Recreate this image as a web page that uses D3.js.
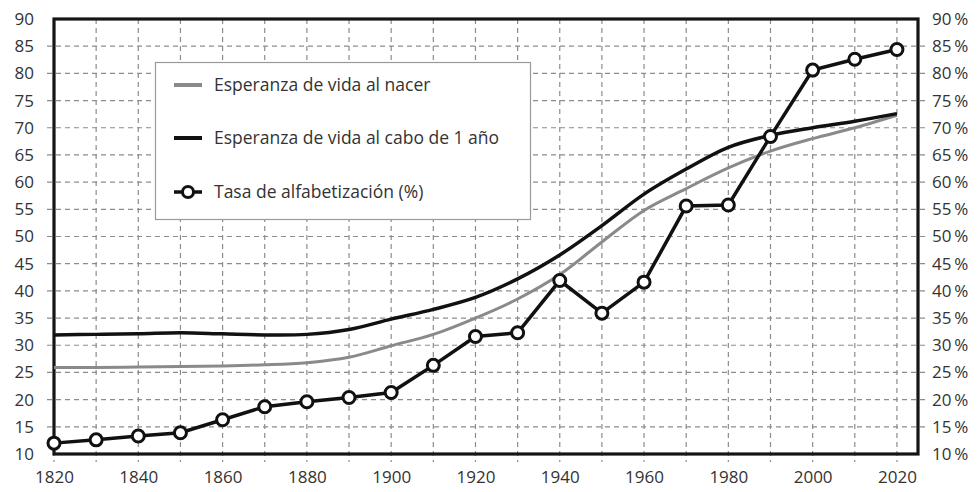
<!DOCTYPE html>
<html>
<head>
<meta charset="utf-8">
<script src="https://cdn.jsdelivr.net/npm/d3@7"></script>
<style>
  body { margin: 0; background: #fff; }
  svg { display: block; font-family: "Open Sans", sans-serif; }
  .tick text { fill: #333; }
</style>
</head>
<body>
<svg id="chart" width="977" height="492"></svg>
<script>
// years sampled every decade
var years = [1820, 1830, 1840, 1850, 1860, 1870, 1880, 1890, 1900, 1910, 1920,
             1930, 1940, 1950, 1960, 1970, 1980, 1990, 2000, 2010, 2020];

var lifeAtBirth = [25.9, 25.9, 26.0, 26.1, 26.2, 26.4, 26.8, 27.8, 29.9, 32.0, 35.0,
                   38.5, 43.0, 49.0, 54.8, 58.8, 62.6, 65.7, 68.0, 70.0, 72.3];

var lifeAtOne = [31.9, 32.0, 32.1, 32.3, 32.1, 31.9, 32.0, 32.9, 34.8, 36.6, 38.8,
                 42.2, 46.6, 52.0, 57.8, 62.4, 66.4, 68.6, 70.0, 71.2, 72.6];

var literacy = [12.0, 12.6, 13.3, 13.9, 16.3, 18.7, 19.6, 20.4, 21.3, 26.3, 31.6,
                32.3, 41.9, 35.9, 41.6, 55.6, 55.8, 68.4, 80.6, 82.6, 84.4];

var xTicks = [1820, 1840, 1860, 1880, 1900, 1920, 1940, 1960, 1980, 2000, 2020];
var yTicks = [10, 15, 20, 25, 30, 35, 40, 45, 50, 55, 60, 65, 70, 75, 80, 85, 90];

var legendLabels = ["Esperanza de vida al nacer",
                    "Esperanza de vida al cabo de 1 año",
                    "Tasa de alfabetización (%)"];

var plotL = 54, plotR = 918, plotT = 19, plotB = 454;

var x = d3.scaleLinear().domain([1820, 2025]).range([plotL, plotR]);
var y = d3.scaleLinear().domain([10, 90]).range([plotB, plotT]);

var svg = d3.select("#chart");

// dashed grid (runs a bit past the frame like ticks)
var grid = svg.append("g")
    .attr("stroke", "#8c8c8c")
    .attr("stroke-width", 1.2)
    .attr("stroke-dasharray", "5,4");

grid.selectAll("line.h").data(yTicks.slice(1, -1)).enter().append("line")
    .attr("x1", plotL - 7).attr("x2", plotR + 7)
    .attr("y1", function(d) { return y(d); })
    .attr("y2", function(d) { return y(d); });

grid.selectAll("line.v").data(years).enter().append("line")
    .attr("x1", function(d) { return x(d); })
    .attr("x2", function(d) { return x(d); })
    .attr("y1", plotT).attr("y2", plotB + 8);

// axes (labels only)
var yLeft = svg.append("g")
    .attr("transform", "translate(" + (plotL - 20) + ",0)")
    .call(d3.axisLeft(y).tickValues(yTicks).tickSize(0).tickPadding(0));

var yRight = svg.append("g")
    .attr("transform", "translate(" + (plotR + 14) + ",0)")
    .call(d3.axisRight(y).tickValues(yTicks).tickSize(0).tickPadding(0)
          .tickFormat(function(d) { return d + "\u2009%"; }));

var xAxis = svg.append("g")
    .attr("transform", "translate(0," + (plotB + 15) + ")")
    .call(d3.axisBottom(x).tickValues(xTicks).tickSize(0).tickPadding(0)
          .tickFormat(d3.format("d")));

[yLeft, yRight, xAxis].forEach(function(g) {
    g.select(".domain").remove();
    g.selectAll("text").attr("font-size", 17).attr("font-family", "Open Sans, sans-serif");
});
xAxis.selectAll("text").attr("dy", "0.8em");

// frame
svg.append("rect")
    .attr("x", plotL).attr("y", plotT)
    .attr("width", plotR - plotL).attr("height", plotB - plotT)
    .attr("fill", "none")
    .attr("stroke", "#151515")
    .attr("stroke-width", 3.2);

var line = function(values) {
    return d3.line()
        .x(function(d, i) { return x(years[i]); })
        .y(function(d) { return y(d); })
        .curve(d3.curveCatmullRom.alpha(0.5))(values);
};

svg.append("path")
    .attr("d", line(lifeAtBirth))
    .attr("fill", "none").attr("stroke", "#8a8a8a").attr("stroke-width", 3);

svg.append("path")
    .attr("d", line(lifeAtOne))
    .attr("fill", "none").attr("stroke", "#111").attr("stroke-width", 3.5);

svg.append("path")
    .attr("d", d3.line()
        .x(function(d, i) { return x(years[i]); })
        .y(function(d) { return y(d); })(literacy))
    .attr("fill", "none").attr("stroke", "#111").attr("stroke-width", 3.5);

svg.selectAll("circle.lit").data(literacy).enter().append("circle")
    .attr("cx", function(d, i) { return x(years[i]); })
    .attr("cy", function(d) { return y(d); })
    .attr("r", 6)
    .attr("fill", "#fff").attr("stroke", "#111").attr("stroke-width", 3);

// legend
var legend = svg.append("g");
legend.append("rect")
    .attr("x", 155.5).attr("y", 62.5).attr("width", 375).attr("height", 157)
    .attr("fill", "#fff").attr("stroke", "#9a9a9a").attr("stroke-width", 1.2);

var rows = [85, 138, 192];
var styles = [{c: "#8a8a8a", w: 4}, {c: "#111", w: 4}, {c: "#111", w: 3.5}];

legendLabels.forEach(function(label, i) {
    legend.append("line")
        .attr("x1", 174).attr("x2", 202)
        .attr("y1", rows[i]).attr("y2", rows[i])
        .attr("stroke", styles[i].c).attr("stroke-width", styles[i].w);
    if (i === 2) {
        legend.append("circle")
            .attr("cx", 188).attr("cy", rows[i]).attr("r", 5.5)
            .attr("fill", "#fff").attr("stroke", "#111").attr("stroke-width", 3);
    }
    legend.append("text")
        .attr("x", 214).attr("y", rows[i]).attr("dy", "0.35em")
        .attr("font-size", 17.5).attr("fill", "#333")
        .text(label);
});
</script>
</body>
</html>
